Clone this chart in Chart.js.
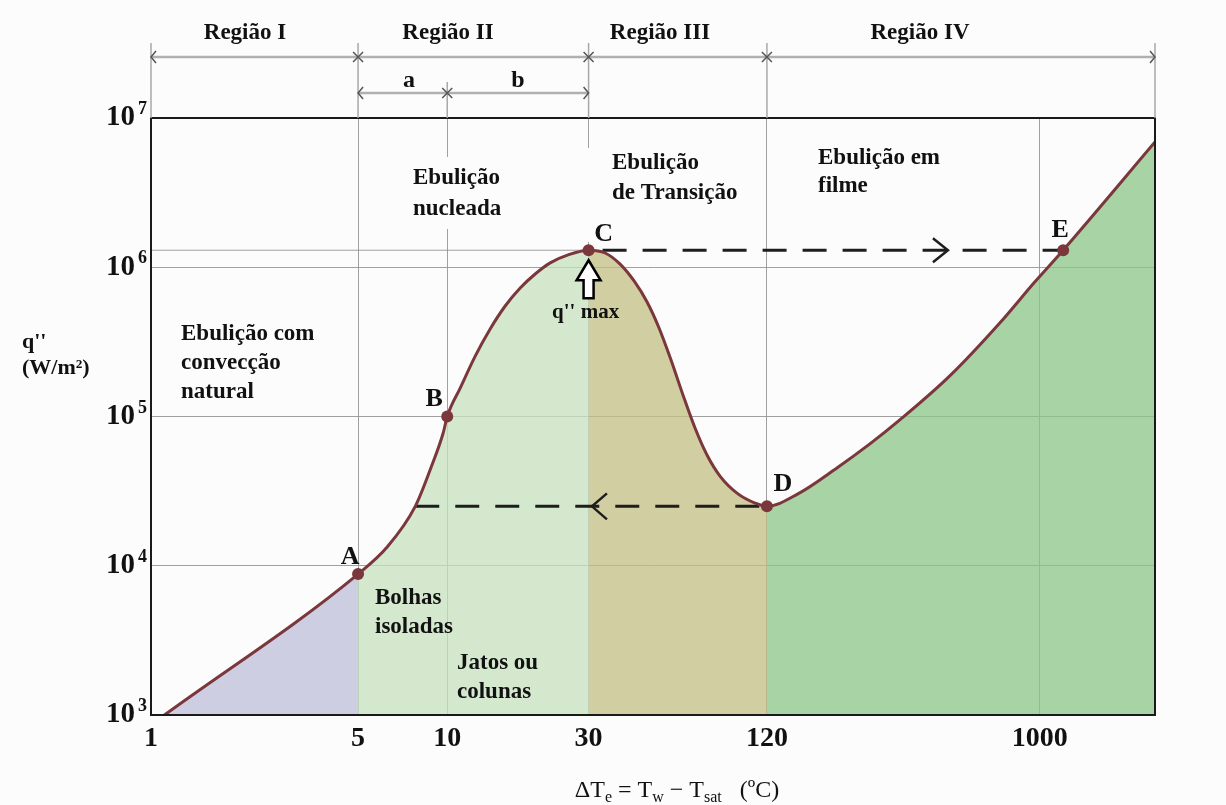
<!DOCTYPE html>
<html lang="pt">
<head>
<meta charset="utf-8">
<title>Curva de ebulição</title>
<script src="https://cdn.jsdelivr.net/npm/chart.js@4.4.1/dist/chart.umd.min.js"></script>
<style>
  html, body { margin: 0; padding: 0; background: #fcfcfc; }
  #wrap { width: 1226px; height: 805px; position: relative; }
</style>
</head>
<body>
<div id="wrap"><canvas id="curva"></canvas></div>
<script>
// curva de ebulição: ΔTe (ºC) x fluxo de calor q'' (W/m²)
const deltaT = [1.11, 5, 6.28, 7.8, 8.83, 9.69, 10,
                11.06, 12.43, 13.96, 15.69, 17.63, 19.81, 22.26, 25.59, 30,
                34.12, 38.33, 42.73, 47.27, 51.88, 56.94, 62.51, 68.62, 75.32, 83.31, 95.83, 109.4, 120,
                152.7, 206.7, 267.1, 337.1, 497.1, 733.1, 962, 1200, 2450];
const fluxo = [1000, 8800, 13400, 25000, 45900, 77500, 100000,
               155000, 254000, 386000, 550000, 726000, 901000, 1070000, 1210000, 1300000,
               1246000, 1050000, 809000, 585000, 392000, 239000, 139000, 83700, 55200, 39900, 30300, 26300, 25000,
               30300, 45200, 65500, 94800, 187000, 423000, 796000, 1300000, 6900000];

// pontos marcados
const pontosNome = ["A", "B", "C", "D", "E"];
const pontosDT = [5, 10, 30, 120, 1200];
const pontosQ = [8800, 100000, 1300000, 25000, 1300000];

// regiões de ebulição
const regiaoLimites = [1, 5, 30, 120, 2450];
const regiaoNomes = ["Região I", "Região II", "Região III", "Região IV"];
const subLimites = [5, 10, 30];
const subNomes = ["a", "b"];

// eixos
const xTicks = [1, 5, 10, 30, 120, 1000];
const yTicks = [1e3, 1e4, 1e5, 1e6, 1e7];

// fluxo máximo (C) e mínimo (D) e os caminhos tracejados
const qMax = 1300000;
const qMin = 25000;
const caminhoIdaDT = [30, 1200];
const caminhoVoltaDT = [7.8, 120];
const setaIdaDT = 490;
const setaVoltaDT = 30.8;

const regiaoCores = [
  "rgba(191,191,218,0.75)",
  "rgba(200,226,192,0.75)",
  "rgba(195,191,131,0.75)",
  "rgba(140,198,135,0.75)"
];
const regiaoTextoX = [245, 448, 660, 920];
const subTextoX = [409, 518];
const corCurva = "#7a373c";
const fundo = "#fcfcfc";
const fonte = "'Liberation Serif', 'Times New Roman', serif";

Chart.defaults.font.family = fonte;
Chart.defaults.color = "#111";

function pares(xs, ys) {
  return xs.map((x, i) => ({ x: x, y: Array.isArray(ys) ? ys[i] : ys }));
}

// preenchimento por região, com cortes nas posições de 5, 30 e 120 ºC
function preenchimento(context) {
  const chart = context.chart;
  const area = chart.chartArea;
  const sx = chart.scales.x;
  if (!area || !sx) return "rgba(0,0,0,0)";
  const g = chart.ctx.createLinearGradient(area.left, 0, area.right, 0);
  const w = area.right - area.left;
  const frac = v => Math.min(1, Math.max(0, (sx.getPixelForValue(v) - area.left) / w));
  for (let i = 0; i < regiaoNomes.length; i++) {
    g.addColorStop(frac(regiaoLimites[i]), regiaoCores[i]);
    g.addColorStop(frac(regiaoLimites[i + 1]), regiaoCores[i]);
  }
  return g;
}

function texto(ctx, s, x, y, font, align) {
  ctx.font = font;
  ctx.textAlign = align || "left";
  ctx.textBaseline = "middle";
  ctx.fillText(s, x, y);
}

function linhas(ctx, lista, x, y0, dy, font) {
  lista.forEach((s, i) => texto(ctx, s, x, y0 + i * dy, font));
}

function chevron(ctx, x, y, dir, len, half) {
  ctx.beginPath();
  ctx.moveTo(x - dir * len, y - half);
  ctx.lineTo(x, y);
  ctx.lineTo(x - dir * len, y + half);
  ctx.stroke();
}

function cruz(ctx, x, y, r) {
  ctx.beginPath();
  ctx.moveTo(x - r, y - r); ctx.lineTo(x + r, y + r);
  ctx.moveTo(x + r, y - r); ctx.lineTo(x - r, y + r);
  ctx.stroke();
}

const decoracao = {
  id: "decoracao",
  beforeDatasetsDraw(chart) {
    // fundos claros dos textos internos, que interrompem a grade
    const ctx = chart.ctx;
    ctx.save();
    ctx.fillStyle = fundo;
    ctx.fillRect(405, 157, 110, 72);
    ctx.fillRect(578, 148, 180, 94);
    ctx.restore();
  },
  afterDatasetsDraw(chart) {
    const ctx = chart.ctx;
    const a = chart.chartArea;
    const sx = chart.scales.x;
    const sy = chart.scales.y;
    ctx.save();

    // moldura
    ctx.strokeStyle = "#1a1a1a";
    ctx.lineWidth = 2;
    ctx.strokeRect(a.left, a.top, a.right - a.left, a.bottom - a.top);

    // cotas das regiões acima do gráfico
    const yCota1 = 57, yCota2 = 93;
    ctx.strokeStyle = "#a8a8a8";
    ctx.lineWidth = 1.5;
    regiaoLimites.forEach(v => {
      const px = Math.min(sx.getPixelForValue(v), a.right);
      ctx.beginPath(); ctx.moveTo(px, 43); ctx.lineTo(px, a.top); ctx.stroke();
    });
    const p10 = sx.getPixelForValue(subLimites[1]);
    ctx.beginPath(); ctx.moveTo(p10, 82); ctx.lineTo(p10, a.top); ctx.stroke();

    ctx.lineWidth = 2.5;
    ctx.strokeStyle = "#b0b0b0";
    ctx.beginPath(); ctx.moveTo(a.left, yCota1); ctx.lineTo(a.right, yCota1); ctx.stroke();
    const p5 = sx.getPixelForValue(subLimites[0]);
    const p30 = sx.getPixelForValue(subLimites[2]);
    ctx.beginPath(); ctx.moveTo(p5, yCota2); ctx.lineTo(p30, yCota2); ctx.stroke();

    ctx.strokeStyle = "#555";
    ctx.lineWidth = 1.5;
    chevron(ctx, a.left, yCota1, -1, 5, 6);
    chevron(ctx, a.right, yCota1, 1, 5, 6);
    regiaoLimites.slice(1, -1).forEach(v => cruz(ctx, sx.getPixelForValue(v), yCota1, 5));
    chevron(ctx, p5, yCota2, -1, 5, 6);
    chevron(ctx, p30, yCota2, 1, 5, 6);
    cruz(ctx, p10, yCota2, 5);

    ctx.fillStyle = "#111";
    const fReg = "bold 23px " + fonte;
    regiaoNomes.forEach((nome, i) => texto(ctx, nome, regiaoTextoX[i], 33, fReg, "center"));
    subNomes.forEach((nome, i) => texto(ctx, nome, subTextoX[i], 81, "bold 24px " + fonte, "center"));

    // setas nos caminhos tracejados
    ctx.strokeStyle = "#1e1e1e";
    ctx.lineWidth = 2.5;
    chevron(ctx, sx.getPixelForValue(setaIdaDT), sy.getPixelForValue(qMax), 1, 15, 12);
    chevron(ctx, sx.getPixelForValue(setaVoltaDT), sy.getPixelForValue(qMin), -1, 15, 13);

    // seta vazada de q'' max
    const cx = sx.getPixelForValue(pontosDT[2]);
    const cy = sy.getPixelForValue(pontosQ[2]);
    ctx.beginPath();
    ctx.moveTo(cx, cy + 10);
    ctx.lineTo(cx + 12, cy + 30);
    ctx.lineTo(cx + 5, cy + 30);
    ctx.lineTo(cx + 5, cy + 48);
    ctx.lineTo(cx - 5, cy + 48);
    ctx.lineTo(cx - 5, cy + 30);
    ctx.lineTo(cx - 12, cy + 30);
    ctx.closePath();
    ctx.fillStyle = "#ffffff";
    ctx.fill();
    ctx.strokeStyle = "#000";
    ctx.lineWidth = 2.5;
    ctx.stroke();
    ctx.fillStyle = "#111";
    texto(ctx, "q'' max", cx - 3, cy + 62, "bold 21px " + fonte, "center");

    // letras dos pontos
    const desloc = [[-8, -17], [-13, -17], [15, -16], [16, -22], [-3, -20]];
    pontosNome.forEach((nome, i) => {
      const px = sx.getPixelForValue(pontosDT[i]);
      const py = sy.getPixelForValue(pontosQ[i]);
      texto(ctx, nome, px + desloc[i][0], py + desloc[i][1], "bold 26px " + fonte, "center");
    });

    // textos das regiões
    const fAnot = "bold 23px " + fonte;
    linhas(ctx, ["Ebulição com", "convecção", "natural"], 181, 334, 29, fAnot);
    linhas(ctx, ["Ebulição", "nucleada"], 413, 178, 31, fAnot);
    linhas(ctx, ["Ebulição", "de Transição"], 612, 163, 30, fAnot);
    linhas(ctx, ["Ebulição em", "filme"], 818, 158, 28, fAnot);
    linhas(ctx, ["Bolhas", "isoladas"], 375, 598, 29, fAnot);
    linhas(ctx, ["Jatos ou", "colunas"], 457, 663, 29, fAnot);

    // expoentes dos rótulos do eixo y
    yTicks.forEach(v => {
      const py = sy.getPixelForValue(v);
      ctx.font = "bold 18px " + fonte;
      ctx.textAlign = "left";
      ctx.textBaseline = "alphabetic";
      ctx.fillText(String(Math.round(Math.log10(v))), a.left - 13, py - 4);
    });

    // título do eixo y
    texto(ctx, "q''", 22, 342, "bold 22px " + fonte);
    texto(ctx, "(W/m²)", 22, 368, "bold 22px " + fonte);

    // título do eixo x com subscritos
    const partes = [["ΔT", 0], ["e", 1], [" = T", 0], ["w", 1], [" − T", 0], ["sat", 1], ["   (ºC)", 0]];
    const fMain = "24px " + fonte, fSub = "16px " + fonte;
    let largura = 0;
    partes.forEach(p => { ctx.font = p[1] ? fSub : fMain; largura += ctx.measureText(p[0]).width; });
    let x = 677 - largura / 2;
    ctx.textAlign = "left";
    ctx.textBaseline = "alphabetic";
    partes.forEach(p => {
      ctx.font = p[1] ? fSub : fMain;
      ctx.fillText(p[0], x, p[1] ? 802 : 797);
      x += ctx.measureText(p[0]).width;
    });

    ctx.restore();
  }
};

new Chart(document.getElementById("curva"), {
  type: "line",
  data: {
    datasets: [
      {
        label: "pontos",
        data: pares(pontosDT, pontosQ),
        showLine: false,
        pointRadius: 6,
        pointBackgroundColor: corCurva,
        pointBorderWidth: 0,
        order: 0
      },
      {
        label: "curva de ebulição",
        data: pares(deltaT, fluxo),
        borderColor: corCurva,
        borderWidth: 3,
        pointRadius: 0,
        cubicInterpolationMode: "monotone",
        fill: "start",
        backgroundColor: preenchimento,
        order: 1
      },
      {
        label: "C até E",
        data: pares(caminhoIdaDT, qMax),
        borderColor: "#1e1e1e",
        borderWidth: 3,
        borderDash: [24, 16],
        borderDashOffset: -14,
        pointRadius: 0,
        order: 2
      },
      {
        label: "D de volta",
        data: pares(caminhoVoltaDT, qMin),
        borderColor: "#1e1e1e",
        borderWidth: 3,
        borderDash: [24, 16],
        pointRadius: 0,
        order: 2
      },
      {
        label: "q'' max",
        data: pares([1, 30], qMax),
        borderColor: "rgba(140,140,140,0.8)",
        borderWidth: 1,
        pointRadius: 0,
        order: 3
      }
    ]
  },
  options: {
    responsive: true,
    maintainAspectRatio: false,
    animation: false,
    events: [],
    layout: { padding: { top: 118, right: 71, left: 0, bottom: 0 } },
    plugins: {
      legend: { display: false },
      tooltip: { enabled: false },
      filler: { drawTime: "beforeDatasetsDraw" }
    },
    scales: {
      x: {
        type: "logarithmic",
        min: 1,
        max: 2450,
        afterBuildTicks: scale => { scale.ticks = xTicks.map(v => ({ value: v })); },
        afterFit: scale => { scale.height = 90; },
        ticks: {
          autoSkip: false,
          maxRotation: 0,
          padding: 7,
          color: "#111",
          font: { size: 28, weight: "bold" },
          callback: v => String(v)
        },
        grid: { color: "rgba(150,150,150,0.9)", lineWidth: 1, drawTicks: false },
        border: { color: "#1a1a1a", width: 2 }
      },
      y: {
        type: "logarithmic",
        min: 1000,
        max: 1e7,
        afterBuildTicks: scale => { scale.ticks = yTicks.map(v => ({ value: v })); },
        afterFit: scale => { scale.width = 151; },
        ticks: {
          autoSkip: false,
          padding: 16,
          color: "#111",
          font: { size: 29, weight: "bold" },
          callback: () => "10"
        },
        grid: { color: "rgba(150,150,150,0.9)", lineWidth: 1, drawTicks: false },
        border: { color: "#1a1a1a", width: 2 }
      }
    }
  },
  plugins: [decoracao]
});
</script>
</body>
</html>
